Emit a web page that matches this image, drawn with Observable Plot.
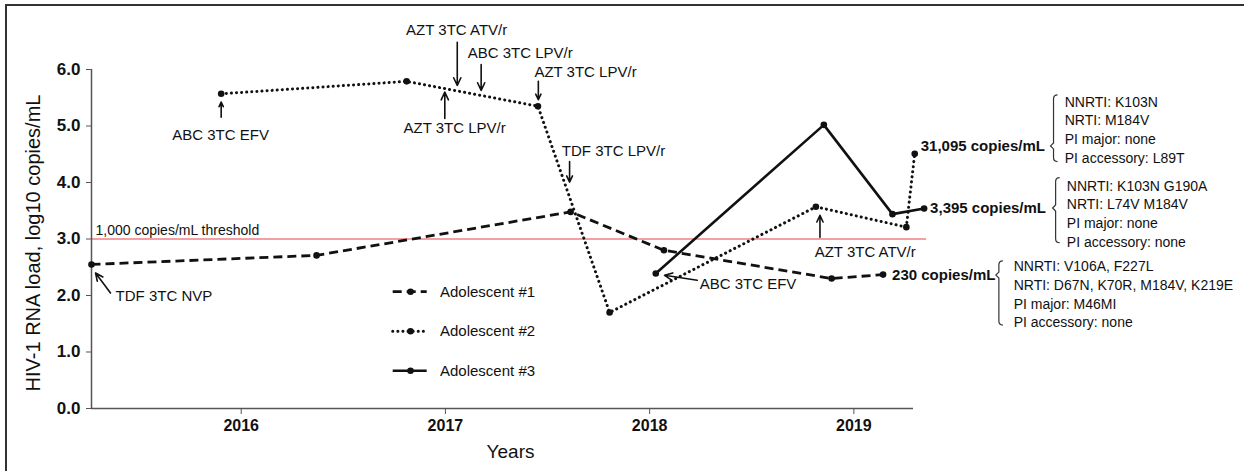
<!DOCTYPE html>
<html><head><meta charset="utf-8">
<script src="https://cdn.jsdelivr.net/npm/d3@7"></script>
<script src="https://cdn.jsdelivr.net/npm/@observablehq/plot@0.6"></script>
<style>
html,body{margin:0;padding:0;background:#fff;}
#chart{width:1244px;height:471px;}
g[aria-label="y-axis tick label"], g[aria-label="x-axis tick label"]{font-weight:bold;}
</style></head><body><div id="chart"></div>
<script>
// ---- data (decimal years, log10 copies/mL) ----
const years1 = [2015.267, 2016.369, 2017.613, 2018.070, 2018.891, 2019.143];
const load1  = [2.55, 2.71, 3.48, 2.80, 2.30, 2.37];
const years2 = [2015.902, 2016.810, 2017.453, 2017.804, 2018.814, 2019.257, 2019.298];
const load2  = [5.57, 5.79, 5.35, 1.70, 3.57, 3.21, 4.51];
const years3 = [2018.030, 2018.853, 2019.189, 2019.344];
const load3  = [2.39, 5.02, 3.44, 3.54];
const seriesNames = ["Adolescent #1", "Adolescent #2", "Adolescent #3"];

const yTicks = [0, 1, 2, 3, 4, 5, 6];
const xTicks = [2016, 2017, 2018, 2019];
const xDomain = [2015.267, 2019.292];
const yDomain = [0, 6];
const yTitle = "HIV-1 RNA load, log10 copies/mL";
const xTitle = "Years";

const threshold = 3;
const thresholdEnd = 2019.356;
const thresholdLabel = "1,000 copies/mL threshold";

// regimen annotations: arrow tail -> tip, label position (data units)
const regimens = ["ABC 3TC EFV", "AZT 3TC ATV/r", "ABC 3TC LPV/r", "AZT 3TC LPV/r", "AZT 3TC LPV/r",
                  "TDF 3TC LPV/r", "TDF 3TC NVP", "ABC 3TC EFV", "AZT 3TC ATV/r"];
const tailX  = [2015.902, 2017.058, 2017.175, 2017.455, 2016.997, 2017.608, 2015.360, 2018.233, 2018.834];
const tailY  = [5.157, 6.483, 6.088, 5.793, 5.134, 4.373, 2.044, 2.269, 3.029];
const tipX   = [2015.902, 2017.058, 2017.175, 2017.455, 2016.997, 2017.608, 2015.287, 2018.073, 2018.834];
const tipY   = [5.422, 5.717, 5.629, 5.464, 5.599, 4.007, 2.398, 2.357, 3.418];
const labelX = [2015.899, 2017.055, 2017.366, 2017.686, 2017.045, 2017.823, 2015.385, 2018.245, 2018.808];
const labelY = [4.833, 6.690, 6.283, 5.952, 4.962, 4.555, 1.991, 2.193, 2.769];
const labelAlign = ["middle", "middle", "middle", "middle", "middle", "middle", "start", "start", "start"];

// final viral loads and resistance mutations
const endLabels = ["230 copies/mL", "31,095 copies/mL", "3,395 copies/mL"];
const mutations1 = ["NNRTI: V106A, F227L", "NRTI: D67N, K70R, M184V, K219E", "PI major: M46MI", "PI accessory: none"];
const mutations2 = ["NNRTI: K103N", "NRTI: M184V", "PI major: none", "PI accessory: L89T"];
const mutations3 = ["NNRTI: K103N G190A", "NRTI: L74V M184V", "PI major: none", "PI accessory: none"];

// ---- tables ----
const s1 = years1.map((x, i) => ({x, y: load1[i]}));
const s2 = years2.map((x, i) => ({x, y: load2[i]}));
const s3 = years3.map((x, i) => ({x, y: load3[i]}));
const ann = regimens.map((t, i) => ({t, x1: tailX[i], y1: tailY[i], x2: tipX[i], y2: tipY[i], lx: labelX[i], ly: labelY[i], a: labelAlign[i]}));
const last1 = s1[s1.length - 1], last2 = s2[s2.length - 1], last3 = s3[s3.length - 1];

const INK = "#111";
const AXIS = "#555";
const FONT = "'Liberation Sans', Arial, Helvetica, sans-serif";

function bracket(anchor, dx, top, bottom, nub) {
  return (index, scales) => {
    const px = scales.x(anchor.x) + dx, py = scales.y(anchor.y);
    const t = py + top, b = py + bottom, n = py + nub;
    const g = d3.create("svg:g");
    g.append("path")
      .attr("d", `M${px + 4},${t} Q${px},${t} ${px},${t + 4} L${px},${n - 3} L${px - 3},${n} L${px},${n + 3} L${px},${b - 4} Q${px},${b} ${px + 4},${b}`)
      .attr("fill", "none").attr("stroke", "#333").attr("stroke-width", 1.2);
    return g.node();
  };
}

function legend() {
  const g = d3.create("svg:g");
  const dashes = ["9,5", "0.1,5", null];
  const widths = [2.8, 3, 2.6];
  seriesNames.forEach((name, i) => {
    const y = 291.7 + i * 39.5;
    const l = g.append("line").attr("x1", 392.7).attr("x2", 426.7).attr("y1", y).attr("y2", y)
      .attr("stroke", INK).attr("stroke-width", widths[i]).attr("stroke-linecap", i === 1 ? "round" : "butt");
    if (dashes[i]) l.attr("stroke-dasharray", dashes[i]);
    g.append("circle").attr("cx", 410.5).attr("cy", y).attr("r", 3.3).attr("fill", INK);
    g.append("text").attr("x", 440).attr("y", y).attr("dy", "0.35em").attr("font-size", 15)
      .attr("text-anchor", "start").attr("fill", INK).text(name);
  });
  return g.node();
}

function border() {
  const g = d3.create("svg:g");
  g.append("rect").attr("x", 6).attr("y", 5).attr("width", 1400).attr("height", 600)
    .attr("fill", "none").attr("stroke", "#333").attr("stroke-width", 2);
  return g.node();
}

const plot = Plot.plot({
  width: 1244,
  height: 471,
  marginLeft: 91,
  marginRight: 331,
  marginTop: 69,
  marginBottom: 63,
  style: {fontFamily: FONT, fontSize: "14px", background: "#fff", overflow: "visible", color: INK},
  x: {domain: xDomain, type: "linear"},
  y: {domain: yDomain},
  marks: [
    border,
    // threshold
    Plot.ruleY([threshold], {x1: xDomain[0], x2: thresholdEnd, stroke: "#f07f84", strokeWidth: 1.6}),
    Plot.text([thresholdLabel], {x: xDomain[0], y: threshold, dx: 4, dy: -8, textAnchor: "start", fontSize: 14, fill: INK}),
    // axes
    Plot.ruleX([xDomain[0]], {y1: yDomain[0], y2: yDomain[1], stroke: AXIS, strokeWidth: 1.5}),
    Plot.ruleY([yDomain[0]], {x1: xDomain[0], x2: xDomain[1], stroke: AXIS, strokeWidth: 1.5}),
    Plot.axisY({ticks: yTicks, tickFormat: d => d.toFixed(1), tickSize: 5, tickPadding: 6, fontSize: 17, fontWeight: "bold", stroke: AXIS, fill: INK, label: null}),
    Plot.axisX({ticks: xTicks, tickFormat: d => String(d), tickSize: 6, tickPadding: 5, fontSize: 16, fontWeight: "bold", stroke: AXIS, fill: INK, label: null}),
    Plot.text([yTitle], {frameAnchor: "left", textAnchor: "middle", lineAnchor: "middle", rotate: -90, dx: -58, dy: 4, fontSize: 20, fill: INK}),
    Plot.text([xTitle], {frameAnchor: "bottom", textAnchor: "middle", lineAnchor: "middle", dx: 8, dy: 43, fontSize: 19, fill: INK}),
    // series
    Plot.line(s1, {x: "x", y: "y", stroke: INK, strokeWidth: 2.8, strokeDasharray: "9,5", strokeLinecap: "butt"}),
    Plot.line(s2, {x: "x", y: "y", stroke: INK, strokeWidth: 3, strokeDasharray: "0.1,5", strokeLinecap: "round"}),
    Plot.line(s3, {x: "x", y: "y", stroke: INK, strokeWidth: 2.6}),
    Plot.dot(s1, {x: "x", y: "y", r: 3.3, fill: INK}),
    Plot.dot(s2, {x: "x", y: "y", r: 3.3, fill: INK}),
    Plot.dot(s3, {x: "x", y: "y", r: 3.3, fill: INK}),
    // regimen annotations
    Plot.arrow(ann, {x1: "x1", y1: "y1", x2: "x2", y2: "y2", stroke: INK, strokeWidth: 1.6, headLength: 8, headAngle: 50}),
    Plot.text(ann.filter(d => d.a === "middle"), {x: "lx", y: "ly", text: "t", textAnchor: "middle", fontSize: 15, fill: INK}),
    Plot.text(ann.filter(d => d.a === "start"), {x: "lx", y: "ly", text: "t", textAnchor: "start", fontSize: 15, fill: INK}),
    // end labels
    Plot.text([last1], {x: "x", y: "y", text: () => endLabels[0], textAnchor: "start", dx: 9, dy: 1, fontSize: 15, fontWeight: "bold", fill: INK}),
    Plot.text([last2], {x: "x", y: "y", text: () => endLabels[1], textAnchor: "start", dx: 6, dy: -7, fontSize: 15, fontWeight: "bold", fill: INK}),
    Plot.text([last3], {x: "x", y: "y", text: () => endLabels[2], textAnchor: "start", dx: 6, dy: 0, fontSize: 15, fontWeight: "bold", fill: INK}),
    // mutation blocks
    Plot.text([last2], {x: "x", y: "y", text: () => mutations2.join("\n"), textAnchor: "start", lineAnchor: "middle", lineHeight: 1.343, dx: 150, dy: -25, fontSize: 14, fill: INK}),
    Plot.text([last3], {x: "x", y: "y", text: () => mutations3.join("\n"), textAnchor: "start", lineAnchor: "middle", lineHeight: 1.343, dx: 142.7, dy: 4.2, fontSize: 14, fill: INK}),
    Plot.text([last1], {x: "x", y: "y", text: () => mutations1.join("\n"), textAnchor: "start", lineAnchor: "middle", lineHeight: 1.343, dx: 130.6, dy: 18.5, fontSize: 14, fill: INK}),
    bracket(last2, 139.3, -58.3, 8.4, -7.3),
    bracket(last3, 132, -30.3, 34.7, 0),
    bracket(last1, 116.3, -13.3, 51, 1),
    legend
  ]
});
document.getElementById("chart").appendChild(plot);
</script>
</body></html>
